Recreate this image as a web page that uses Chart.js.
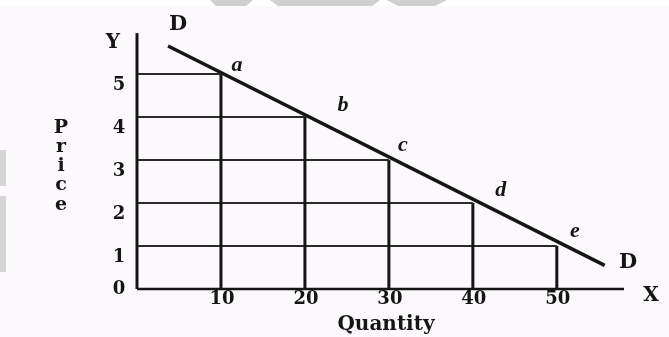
<!DOCTYPE html>
<html>
<head>
<meta charset="utf-8">
<script src="https://cdn.jsdelivr.net/npm/chart.js@4/dist/chart.umd.min.js"></script>
<style>
  html, body { margin: 0; padding: 0; background: #fbf9fb; }
  canvas { display: block; }
</style>
</head>
<body>
<canvas id="demandChart" width="669" height="337"></canvas>
<script>
  // demand schedule: quantity demanded at each price
  const pointNames = ['a', 'b', 'c', 'd', 'e'];
  const quantities = [10, 20, 30, 40, 50];
  const prices = [5, 4, 3, 2, 1];

  // ends of the demand curve DD
  const curveQty = [3.7, 55.7];
  const curvePrice = [5.65, 0.55];

  const yTicks = [0, 1, 2, 3, 4, 5];
  const xTicks = [10, 20, 30, 40, 50];

  const ink = '#151515';
  const numFont = 'bold 18px "DejaVu Serif"';

  let datasets = [];

  // axes OY and OX
  datasets.push({ data: [{x: 0, y: 0}, {x: 0, y: 5.95}], borderColor: ink, borderWidth: 3 });
  datasets.push({ data: [{x: 0, y: 0}, {x: 58, y: 0}], borderColor: ink, borderWidth: 2.5 });

  // guide lines from each point to the axes
  for (let i = 0; i < quantities.length; i++) {
    datasets.push({ // horizontal: price level
      data: [{x: 0, y: prices[i]}, {x: quantities[i], y: prices[i]}],
      borderColor: '#2a2a2a', borderWidth: 2
    });
    datasets.push({ // vertical: quantity bought
      data: [{x: quantities[i], y: prices[i]}, {x: quantities[i], y: 0}],
      borderColor: ink, borderWidth: 3
    });
  }

  // the demand curve itself
  datasets.push({
    data: curveQty.map((q, i) => ({x: q, y: curvePrice[i]})),
    borderColor: ink, borderWidth: 3.5
  });

  datasets.forEach(function(ds) {
    ds.showLine = true;
    ds.pointRadius = 0;
    ds.clip = false;
    ds.borderCapStyle = 'butt';
  });

  // scanned page look + watermark blobs
  const paperPlugin = {
    id: 'paper',
    beforeDraw(chart) {
      const c = chart.ctx;
      c.save();
      c.fillStyle = '#fbf9fb';
      c.fillRect(0, 0, chart.width, chart.height);
      c.fillStyle = '#ffffff';
      c.fillRect(0, 0, chart.width, 6);
      c.fillStyle = '#cfcfcf';
      c.beginPath();
      c.moveTo(210, 0); c.lineTo(253, 0); c.lineTo(246, 6); c.lineTo(216, 6);
      c.closePath(); c.fill();
      c.beginPath();
      c.moveTo(270, 0); c.lineTo(380, 0); c.lineTo(372, 6); c.lineTo(278, 6);
      c.closePath(); c.fill();
      c.beginPath();
      c.moveTo(387, 0); c.lineTo(447, 0); c.lineTo(435, 6); c.lineTo(398, 6);
      c.closePath(); c.fill();
      c.fillStyle = '#d6d6d6';
      c.fillRect(0, 150, 6, 36);
      c.fillRect(0, 196, 6, 76);
      c.restore();
    }
  };

  // tick numbers, axis names and point letters
  const labelPlugin = {
    id: 'labels',
    afterDatasetsDraw(chart) {
      const c = chart.ctx;
      const xs = chart.scales.x;
      const ys = chart.scales.y;
      c.save();
      c.fillStyle = ink;
      c.textBaseline = 'middle';

      c.font = numFont;
      c.textAlign = 'center';
      yTicks.forEach(function(v) {
        let yy = v == 0 ? ys.getPixelForValue(0) : ys.getPixelForValue(v) + 11;
        c.fillText(String(v), xs.getPixelForValue(0) - 18, yy);
      });
      xTicks.forEach(function(v) {
        c.fillText(String(v), xs.getPixelForValue(v) + 1, ys.getPixelForValue(0) + 10);
      });

      c.font = 'bold 20px "DejaVu Serif"';
      c.fillText('Quantity', 386, 325);
      c.fillText('X', 651, 296);
      c.fillText('Y', 113, 43);
      c.font = 'bold 21px "DejaVu Serif"';
      c.fillText('D', 178, 25);
      c.fillText('D', 628, 263);

      c.font = 'bold 19px "DejaVu Serif"';
      const word = ['P', 'r', 'i', 'c', 'e'];
      const wordY = [128, 147, 166, 185, 205];
      word.forEach(function(ch, i) { c.fillText(ch, 61, wordY[i]); });

      c.font = 'italic bold 22px "Liberation Serif"';
      const nudgeX = [16, 38, 14, 28, 18];
      const nudgeY = [-9, -12, -15, -13, -15];
      pointNames.forEach(function(n, i) {
        c.fillText(n, xs.getPixelForValue(quantities[i]) + nudgeX[i], ys.getPixelForValue(prices[i]) + nudgeY[i]);
      });
      c.restore();
    }
  };

  const chart = new Chart(document.getElementById('demandChart'), {
    type: 'scatter',
    data: { datasets: datasets },
    options: {
      responsive: false,
      animation: false,
      layout: { padding: { left: 137, right: 45, top: 31, bottom: 48 } },
      plugins: { legend: { display: false }, tooltip: { enabled: false } },
      scales: {
        x: { type: 'linear', min: 0, max: 58, display: false },
        y: { type: 'linear', min: 0, max: 6, display: false }
      }
    },
    plugins: [paperPlugin, labelPlugin]
  });
</script>
</body>
</html>
